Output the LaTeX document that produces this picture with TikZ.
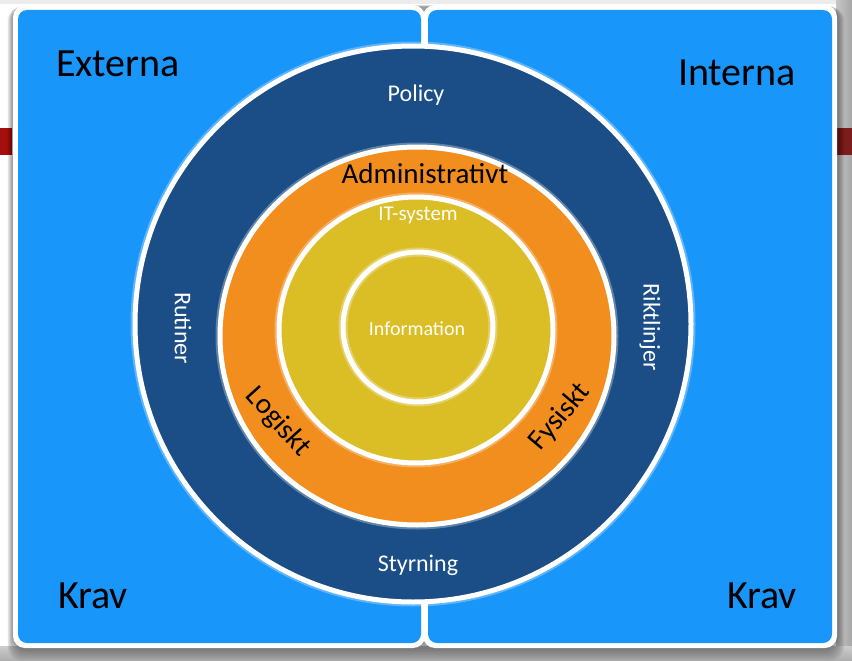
\documentclass[tikz,border=0pt]{standalone}
\usepackage{fontspec}
\setmainfont{Carlito}
\definecolor{panelblue}{RGB}{25,150,250}
\definecolor{ringblue}{RGB}{27,78,134}
\definecolor{ringorange}{RGB}{242,142,30}
\definecolor{ringyellow}{RGB}{219,190,38}
\definecolor{barred}{RGB}{165,14,14}
\definecolor{barreddark}{RGB}{125,28,28}
\begin{document}
\begin{tikzpicture}[x=1pt,y=-1pt,
  corner/.style={font=\fontsize{40}{44}\selectfont, text=black, inner sep=0pt},
  ringtext/.style={font=\fontsize{24}{28}\selectfont, text=white, inner sep=0pt},
  bandtext/.style={font=\fontsize{29}{33}\selectfont, text=black, inner sep=0pt},
  coretext/.style={font=\fontsize{20}{24}\selectfont, text=white, inner sep=0pt},
  whiteline/.style={draw=white, line width=5pt},
  glow/.style={draw=white, line width=9pt, opacity=0.3}]
% canvas
\useasboundingbox (0,0) rectangle (852,661);
\fill[white] (0,0) rectangle (852,661);
\fill[gray!15] (0,0) rectangle (852,4);
% grey strip and red bars behind the panels
\shade[left color=gray!45, right color=gray!70] (836,0) rectangle (852,661);
\shade[top color=gray!40, bottom color=gray!65] (0,646) rectangle (852,661);
\fill[barred] (0,128) rectangle (12,155);
\fill[barreddark] (836,128) rectangle (852,155);
% soft shadow under the panels
\foreach \i in {1,...,9}{
  \fill[black, opacity=0.05, rounded corners=14]
    (13-0.6*\i, 5+0.2*\i) rectangle (837+0.8*\i, 648+1.4*\i);
}
% two panels
\fill[white, rounded corners=12] (13,5) rectangle (425,648);
\fill[panelblue, rounded corners=9] (18,10) rectangle (421,643);
\fill[white, rounded corners=12] (423,5) rectangle (837,648);
\fill[panelblue, rounded corners=9] (428,10) rectangle (832,643);
% concentric rings
\draw[glow] (413,324) circle[radius=278pt];
\filldraw[fill=ringblue, whiteline] (413,324) circle[radius=278pt];
\draw[glow] (417,336) ellipse[x radius=197pt, y radius=189pt];
\filldraw[fill=ringorange, whiteline] (417,336) ellipse[x radius=197pt, y radius=189pt];
\draw[glow] (416,330) ellipse[x radius=137pt, y radius=133pt];
\filldraw[fill=ringyellow, whiteline] (416,330) ellipse[x radius=137pt, y radius=133pt];
\draw[glow] (418,327) circle[radius=75pt];
\draw[whiteline] (418,327) circle[radius=75pt];
% corner labels
\node[corner] (ext) at (118,64) {Externa};
\node[corner] (int) at (737,73) {Interna};
\node[corner] (kravl) at (93,596) {Krav};
\node[corner] (kravr) at (762,596) {Krav};
% outer ring labels
\node[ringtext] (policy) at (416,95) {Policy};
\node[ringtext] (styr) at (418,565) {Styrning};
\node[ringtext, rotate=-90] (rut) at (183,328) {Rutiner};
\node[ringtext, rotate=-90] (rikt) at (650,327) {Riktlinjer};
% middle band labels
\node[bandtext] (adm) at (425,174) {Administrativt};
\node[bandtext, rotate=-48] (log) at (278,422) {Logiskt};
\node[bandtext, rotate=50] (fys) at (560,417) {Fysiskt};
% inner labels
\node[coretext, font=\fontsize{21}{24}\selectfont] (its) at (418,215) {IT-system};
\node[coretext] (info) at (417,329) {Information};
\end{tikzpicture}
\end{document}
